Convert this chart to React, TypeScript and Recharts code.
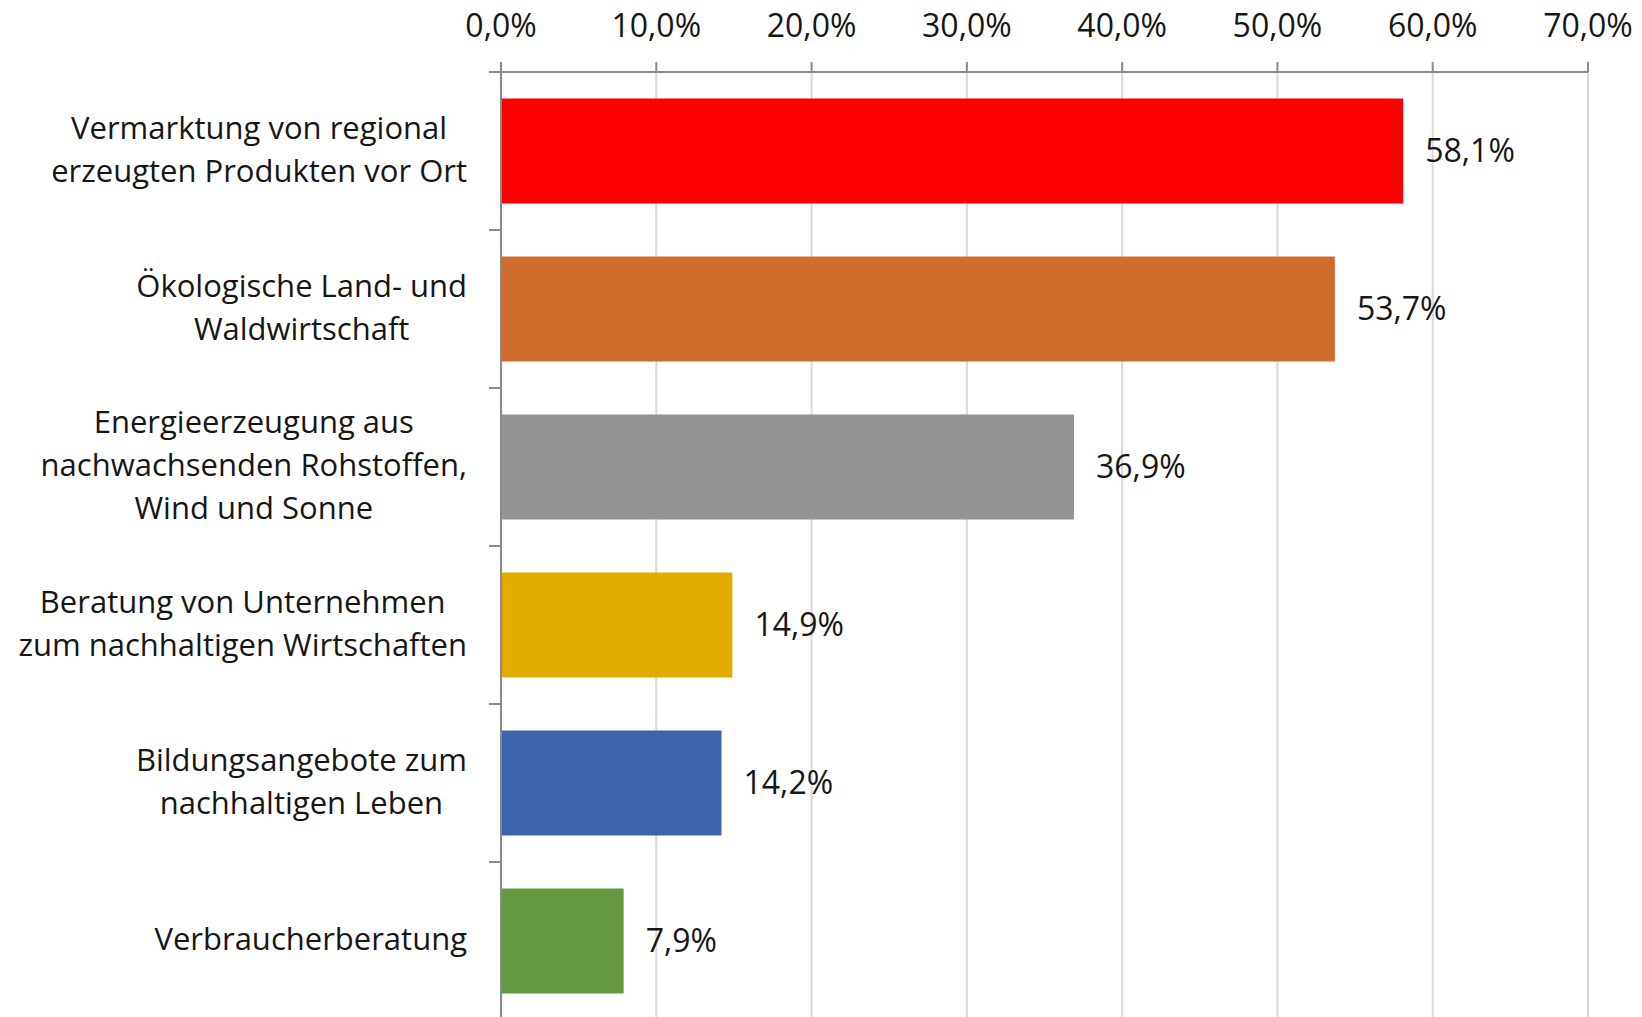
import { BarChart, Bar, XAxis, YAxis, CartesianGrid, Cell, LabelList } from "recharts"

const categories = [
  "Vermarktung von regional\nerzeugten Produkten vor Ort",
  "Ökologische Land- und\nWaldwirtschaft",
  "Energieerzeugung aus\nnachwachsenden Rohstoffen,\nWind und Sonne",
  "Beratung von Unternehmen\nzum nachhaltigen Wirtschaften",
  "Bildungsangebote zum\nnachhaltigen Leben",
  "Verbraucherberatung",
]
const shares = [58.1, 53.7, 36.9, 14.9, 14.2, 7.9]
const barColors = ["#ff0000", "#d16d2c", "#949494", "#e2ab00", "#3d64ab", "#639a3f"]
const xTicks = [0, 10, 20, 30, 40, 50, 60, 70]

const data = categories.map((name, i) => ({ name, value: shares[i], color: barColors[i] }))

const W = 1642
const H = 1020
const TOP = 72
const Y_AXIS_W = 501
const BAND = (H - TOP) / categories.length
const FONT = '"Open Sans", sans-serif'
const CAT_SIZE = 31
const NUM_SIZE = 32
const LINE_H = 43
const AXIS_GRAY = "#8a8a8a"
const TEXT = "#161616"

const fmt = (v: number) => v.toFixed(1).replace(".", ",") + "%"

let ctx: CanvasRenderingContext2D | null = null
function textWidth(s: string) {
  if (!ctx) ctx = document.createElement("canvas").getContext("2d")
  if (!ctx) return s.length * CAT_SIZE * 0.5
  ctx.font = `${CAT_SIZE}px ${FONT}`
  return ctx.measureText(s).width
}

function CategoryTick({ x, y, payload }: { x: number; y: number; payload: { value: string } }) {
  const lines = String(payload.value).split("\n")
  const maxW = Math.max(...lines.map(textWidth))
  const cx = x - maxW / 2
  const first = -((lines.length - 1) / 2) * LINE_H - 3
  return (
    <g>
      <line x1={Y_AXIS_W - 12} x2={Y_AXIS_W} y1={y - BAND / 2} y2={y - BAND / 2} stroke={AXIS_GRAY} strokeWidth={2} />
      <text x={cx} y={y} textAnchor="middle" dominantBaseline="central" fill={TEXT} fontSize={CAT_SIZE} fontFamily={FONT}>
        {lines.map((l, i) => (
          <tspan key={i} x={cx} y={y + first + i * LINE_H}>
            {l}
          </tspan>
        ))}
      </text>
    </g>
  )
}

export default function App() {
  return (
    <div style={{ position: "absolute", left: 0, top: 0, width: W, height: 1017, overflow: "hidden", background: "#fff" }}>
      <BarChart
        width={W}
        height={H}
        data={data}
        layout="vertical"
        margin={{ top: 0, right: 54, bottom: 0, left: 0 }}
        barCategoryGap="16.7%"
      >
        <CartesianGrid horizontal={false} stroke="#d9d9d9" strokeWidth={2} />
        <XAxis
          type="number"
          orientation="top"
          domain={[0, 70]}
          ticks={xTicks}
          tickFormatter={fmt}
          height={TOP}
          tickSize={10}
          tickMargin={25}
          stroke={AXIS_GRAY}
          strokeWidth={2}
          tick={{ fill: TEXT, fontSize: NUM_SIZE, fontFamily: FONT }}
          interval={0}
        />
        <YAxis
          type="category"
          dataKey="name"
          width={Y_AXIS_W}
          tickSize={12}
          tickMargin={22}
          tickLine={false}
          stroke={AXIS_GRAY}
          strokeWidth={2}
          tick={(p: any) => <CategoryTick {...p} />}
          interval={0}
        />
        <Bar dataKey="value" isAnimationActive={false}>
          {data.map((d) => (
            <Cell key={d.name} fill={d.color} />
          ))}
          <LabelList
            dataKey="value"
            position="right"
            offset={22}
            formatter={(v: any) => fmt(Number(v))}
            fill={TEXT}
            fontSize={NUM_SIZE}
            fontFamily={FONT}
          />
        </Bar>
      </BarChart>
    </div>
  )
}
